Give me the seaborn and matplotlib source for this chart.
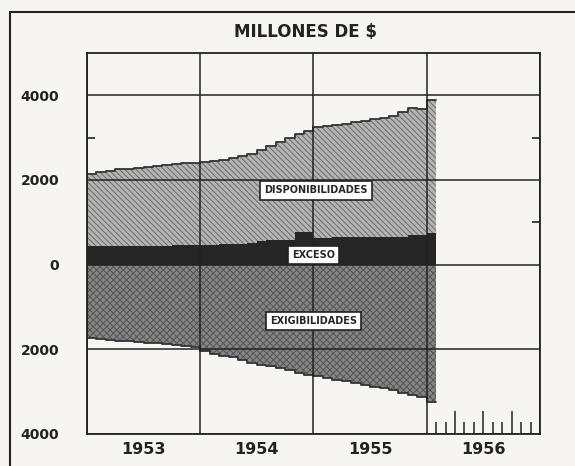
import numpy as np
import pandas as pd
import matplotlib
matplotlib.use("Agg")
import matplotlib.pyplot as plt
import seaborn as sns
from matplotlib.patches import Rectangle

# ---- data (millones de $), monthly Jan 1953 .. Jan 1956 ----
month_index = list(range(37))
disponibilidades = [2140, 2200, 2220, 2250, 2270, 2290, 2310, 2330, 2350, 2370, 2390, 2400,
                    2420, 2450, 2480, 2510, 2560, 2620, 2700, 2800, 2900, 3000, 3080, 3150,
                    3250, 3280, 3300, 3330, 3360, 3390, 3430, 3470, 3520, 3600, 3700, 3680,
                    3900]
exceso = [430, 435, 440, 440, 440, 445, 445, 450, 450, 455, 455, 460,
          470, 475, 480, 485, 490, 520, 560, 590, 590, 590, 760, 760,
          630, 630, 650, 650, 650, 650, 650, 650, 650, 650, 710, 710,
          750]
exigibilidades = [-1740, -1760, -1780, -1800, -1810, -1830, -1850, -1860, -1880, -1900, -1920, -1950,
                  -2050, -2100, -2150, -2180, -2250, -2320, -2360, -2400, -2450, -2500, -2550, -2600,
                  -2640, -2680, -2720, -2760, -2800, -2840, -2880, -2920, -2970, -3030, -3080, -3120,
                  -3240]
year_labels = ["1953", "1954", "1955", "1956"]
y_tick_values = [-4000, -2000, 0, 2000, 4000]
y_tick_labels = ["4000", "2000", "0", "2000", "4000"]

df = pd.DataFrame({
    "t": [1953 + m / 12 for m in month_index],
    "disp": disponibilidades,
    "exc": exceso,
    "exig": exigibilidades,
})
# closing edge for step plot
last = df.iloc[[-1]].copy()
last["t"] = last["t"] + 1 / 12
dfs = pd.concat([df, last], ignore_index=True)

sns.set_theme(style="white")
plt.rcParams["font.family"] = ["DejaVu Sans"]
plt.rcParams["hatch.linewidth"] = 0.7

bg = "#f6f5f1"
ink = "#222222"
fig = plt.figure(figsize=(5.75, 4.66), dpi=100, facecolor=bg)
ax = fig.add_axes([0.1513, 0.0687, 0.7878, 0.8176])
ax.set_facecolor(bg)

# areas
ax.fill_between(dfs["t"], 0, dfs["disp"], step="post", facecolor="#b4b4b4",
                hatch="\\\\\\\\\\\\", edgecolor="#6a6a6a", linewidth=0, zorder=1)
ax.fill_between(dfs["t"], dfs["exig"], 0, step="post", facecolor="#858585",
                hatch="xxxxx", edgecolor="#555555", linewidth=0, zorder=1)
ax.fill_between(dfs["t"], 0, dfs["exc"], step="post", facecolor="#262626",
                edgecolor="#262626", linewidth=0, zorder=2)
# outline edges
sns.lineplot(data=dfs, x="t", y="disp", drawstyle="steps-post", color="#333333",
             lw=1.3, ax=ax, zorder=3)
sns.lineplot(data=dfs, x="t", y="exig", drawstyle="steps-post", color="#333333",
             lw=1.3, ax=ax, zorder=3)

# grid
for yr in range(1953, 1958):
    ax.axvline(yr, color=ink, lw=1.1, zorder=4)
for yv in y_tick_values:
    ax.axhline(yv, color=ink, lw=1.1, zorder=4)

ax.set_xlim(1953, 1957)
ax.set_ylim(-4000, 5000)
ax.set_xticks([1953.5, 1954.5, 1955.5, 1956.5])
ax.set_xticklabels(year_labels, fontsize=11.5, fontweight="bold", color=ink)
ax.set_yticks(y_tick_values)
ax.set_yticklabels(y_tick_labels, fontsize=10, fontweight="bold", color=ink)
ax.tick_params(axis="x", length=0, pad=6)
ax.tick_params(axis="y", length=0, pad=20)
ax.set_yticks([1000, 3000], minor=True)
ax.tick_params(axis="y", which="minor", direction="in", length=6, width=1.2,
               left=True, right=True, color=ink)
ax.set_xlabel("")
ax.set_ylabel("")
for s in ax.spines.values():
    s.set_color(ink)
    s.set_linewidth(1.3)

# monthly ticks in 1956
mt = [1956 + m / 12 for m in range(1, 12)]
for i, x in enumerate(mt, start=1):
    h = 0.06 if i % 3 == 0 else 0.032
    ax.vlines(x, 0, h, transform=ax.get_xaxis_transform(), color=ink, lw=1.1, zorder=5)

# labels in boxes
box = dict(boxstyle="square,pad=0.45", facecolor="white", edgecolor=ink, lw=1.2)
ax.text(1955.02, 1760, "DISPONIBILIDADES", ha="center", va="center", fontsize=7,
        fontweight="bold", bbox=box, zorder=6)
ax.text(1955.0, 230, "EXCESO", ha="center", va="center", fontsize=7,
        fontweight="bold", bbox=box, zorder=6)
ax.text(1955.0, -1330, "EXIGIBILIDADES", ha="center", va="center", fontsize=7,
        fontweight="bold", bbox=box, zorder=6)

fig.text(306 / 575, 1 - 32 / 466, "MILLONES DE $", ha="center", va="center",
         fontsize=12, fontweight="bold", color=ink)

fig.patches.append(Rectangle((10 / 575, -0.05), 1.1, 1 - 12 / 466 + 0.05,
                             transform=fig.transFigure, fill=False,
                             edgecolor=ink, lw=1.5, clip_on=False))

fig.savefig("out.png", dpi=100, facecolor=bg)
